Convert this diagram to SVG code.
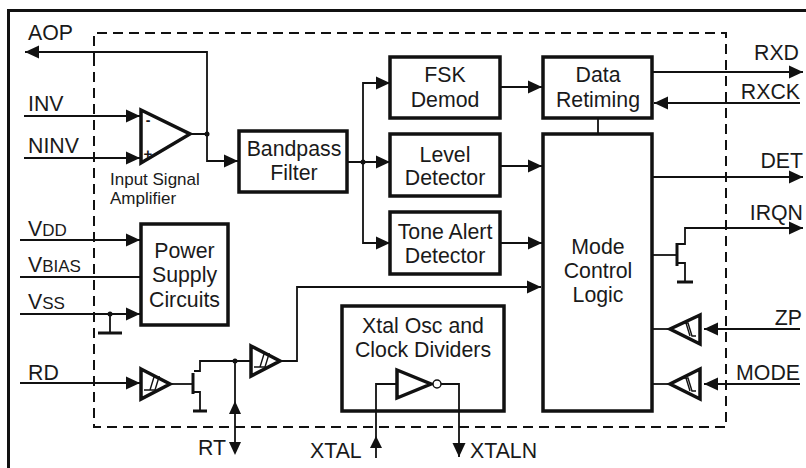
<svg xmlns="http://www.w3.org/2000/svg" width="806" height="468" viewBox="0 0 806 468">
<style>
text{font-family:"Liberation Sans",Arial,sans-serif;font-size:21.3px;fill:#1a1a1a}
.c{text-anchor:middle}
.e{text-anchor:end}
.sm{font-size:17px}
.sub{font-size:17px}
.b{fill:#fff;stroke:#111;stroke-width:3.5}
.t{fill:#fff;stroke:#111;stroke-width:3.5}
.w{fill:none;stroke:#111;stroke-width:1.8}
.h{fill:none;stroke:#111;stroke-width:1.4}
.k{fill:none;stroke:#111;stroke-width:3}
.d{fill:#111}
</style>
<defs>
<marker id="a" markerUnits="userSpaceOnUse" markerWidth="14" markerHeight="14" refX="14" refY="7" orient="auto"><path d="M0 0.5L14 7L0 13.5Z" fill="#111"/></marker>
</defs>
<rect x="8.500" y="10.500" width="800" height="462" fill="none" stroke="#111" stroke-width="3"/>
<path d="M94 62V33H726V427H94V62" fill="none" stroke="#111" stroke-width="2" stroke-dasharray="10 6"/>
<g id="input-amp"><path class="t" d="M141 110L190 134L141 163Z"/><text class="c" x="148" y="125" font-weight="700" style="font-size:14px">-</text><text class="c" x="148" y="159" style="font-size:15px" font-weight="700">+</text><text x="110" y="185" class="sm">Input Signal</text><text x="110" y="204" class="sm">Amplifier</text></g>
<g id="bandpass"><rect class="b" x="239" y="131" width="108" height="61"/><text class="c" x="294" y="156">Bandpass</text><text class="c" x="294" y="180">Filter</text></g>
<g id="fsk"><rect class="b" x="390" y="57" width="110" height="61"/><text class="c" x="445" y="82">FSK</text><text class="c" x="445" y="107">Demod</text></g>
<g id="level"><rect class="b" x="390" y="134" width="110" height="62"/><text class="c" x="445" y="162">Level</text><text class="c" x="445" y="185">Detector</text></g>
<g id="tone"><rect class="b" x="390" y="212" width="110" height="62"/><text class="c" x="445" y="239">Tone Alert</text><text class="c" x="445" y="263">Detector</text></g>
<g id="data"><rect class="b" x="543" y="57" width="109" height="61"/><text class="c" x="598" y="82">Data</text><text class="c" x="598" y="107">Retiming</text></g>
<g id="mode"><rect class="b" x="543" y="134" width="109" height="277"/><text class="c" x="598" y="254">Mode</text><text class="c" x="598" y="278">Control</text><text class="c" x="598" y="302">Logic</text></g>
<g id="power"><rect class="b" x="141" y="224" width="87" height="101"/><text class="c" x="184.500" y="258">Power</text><text class="c" x="184.500" y="282">Supply</text><text class="c" x="184.500" y="307">Circuits</text></g>
<g id="xtal"><rect class="b" x="342" y="306" width="162" height="105"/><text class="c" x="423" y="333">Xtal Osc and</text><text class="c" x="423" y="357">Clock Dividers</text><path class="t" d="M397 370L431 384L397 398Z"/><circle cx="437" cy="384" r="4" fill="#fff" stroke="#111" stroke-width="1.500"/></g>
<g id="sch1"><path class="t" d="M141 369L170 384L141 399Z"/><path class="h" d="M144 390H155L159 377H160M150 390L154 377H160"/></g>
<g id="sch2"><path class="t" d="M251 346L280 361L251 376Z"/><path class="h" d="M254 367H265L269 354H270M260 367L264 354H270"/></g>
<g id="sch3"><path class="t" d="M700 315L670 329L700 344Z"/><path class="h" d="M682 323H688L692 336H696M686 323L690 336"/></g>
<g id="sch4"><path class="t" d="M700 369L670 384L700 399Z"/><path class="h" d="M682 378H688L692 391H696M686 378L690 391"/></g>
<g id="connectors">
<path class="w" d="M207 134V52H25" marker-end="url(#a)"/>
<path class="w" d="M24 116H140" marker-end="url(#a)"/>
<path class="w" d="M24 158H140" marker-end="url(#a)"/>
<path class="w" d="M191 134H207V161H238" marker-end="url(#a)"/>
<path class="w" d="M348 162H390" marker-end="url(#a)"/>
<path class="w" d="M363 162V83H390" marker-end="url(#a)"/>
<path class="w" d="M363 162V243H390" marker-end="url(#a)"/>
<path class="w" d="M500 87H542" marker-end="url(#a)"/>
<path class="w" d="M500 166H542" marker-end="url(#a)"/>
<path class="w" d="M500 243H542" marker-end="url(#a)"/>
<path class="w" d="M652 72H803" marker-end="url(#a)"/>
<path class="w" d="M800 103H654" marker-end="url(#a)"/>
<path class="w" d="M598 118V134"/>
<path class="w" d="M652 177H803" marker-end="url(#a)"/>
<path class="w" d="M653 255H677"/>
<path class="w" d="M678 244H685V228H803" marker-end="url(#a)"/>
<path class="w" d="M678 263H685V282"/>
<path class="k" d="M677 243V266"/>
<path class="k" d="M677 282H693"/>
<path class="w" d="M20 240H140" marker-end="url(#a)"/>
<path class="w" d="M20 277H141"/>
<path class="w" d="M20 314H140" marker-end="url(#a)"/>
<path class="w" d="M110 314V333"/>
<path class="k" d="M98 333H122"/>
<path class="w" d="M20 383H140" marker-end="url(#a)"/>
<path class="w" d="M172 384H193"/>
<path class="k" d="M193 373V394"/>
<path class="w" d="M194 371H200V361H250"/>
<path class="w" d="M194 392H200V411"/>
<path class="k" d="M193 411H207"/>
<path class="w" d="M235 361V445"/>
<path class="d" d="M235 401L229 414H241Z"/>
<path class="d" d="M235 455L229 442H241Z"/>
<path class="w" d="M282 361H297V287H541" marker-end="url(#a)"/>
<path class="w" d="M397 384H376V458"/>
<path class="d" d="M376 436L370 448H382Z"/>
<path class="w" d="M441 384H459V457" marker-end="url(#a)"/>
<path class="w" d="M800 329H704" marker-end="url(#a)"/>
<path class="w" d="M668 329H653"/>
<path class="w" d="M800 384H704" marker-end="url(#a)"/>
<path class="w" d="M668 384H653"/>
<circle class="d" cx="207" cy="134" r="2.500"/>
<circle class="d" cx="363" cy="162" r="2.500"/>
<circle class="d" cx="110" cy="314" r="2.500"/>
<circle class="d" cx="235" cy="361" r="2.500"/>
</g>
<g id="labels">
<text x="28" y="40">AOP</text><text x="28" y="111">INV</text><text x="28" y="153">NINV</text>
<text x="28" y="236">V<tspan class="sub">DD</tspan></text><text x="28" y="272">V<tspan class="sub">BIAS</tspan></text><text x="28" y="309">V<tspan class="sub">SS</tspan></text><text x="28" y="380">RD</text>
<text x="198" y="455">RT</text><text x="310" y="458">XTAL</text><text x="470" y="458">XTALN</text>
<text class="e" x="799" y="60">RXD</text><text class="e" x="800" y="99">RXCK</text><text class="e" x="803" y="168">DET</text><text class="e" x="803" y="220">IRQN</text><text class="e" x="802" y="325">ZP</text><text class="e" x="800" y="380">MODE</text>
</g>
</svg>
